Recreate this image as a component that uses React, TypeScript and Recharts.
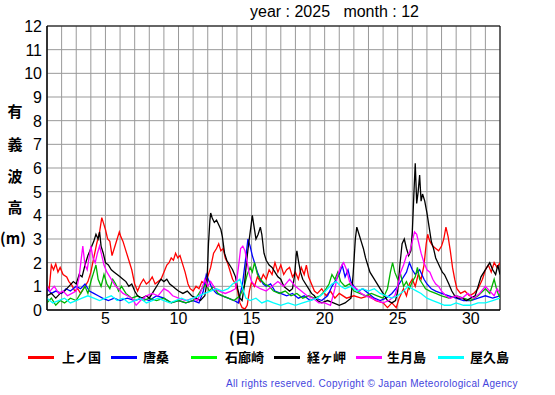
import React from "react";
import {
  LineChart,
  Line,
  XAxis,
  YAxis,
  CartesianGrid,
  ReferenceArea,
} from "recharts";

// ---- data (time in days, value in m) ----
const dayTicks = [1, 2, 3, 4, 5, 6, 7, 8, 9, 10, 11, 12, 13, 14, 15, 16, 17, 18, 19, 20, 21, 22, 23, 24, 25, 26, 27, 28, 29, 30, 31, 32];
const dayLabels = [5, 10, 15, 20, 25, 30];
const heightTicks = [0, 1, 2, 3, 4, 5, 6, 7, 8, 9, 10, 11, 12];

const redT = [1.0, 1.15, 1.3, 1.45, 1.6, 1.75, 1.9, 2.1, 2.35, 2.5, 2.7, 2.9, 3.1, 3.3, 3.5, 3.8, 4.0, 4.2, 4.4, 4.6, 4.75, 4.85, 5.0, 5.15, 5.3, 5.45, 5.6, 5.8, 5.95, 6.05, 6.2, 6.4, 6.6, 6.8, 7.0, 7.2, 7.4, 7.6, 7.8, 8.0, 8.2, 8.4, 8.6, 8.8, 9.0, 9.2, 9.35, 9.5, 9.65, 9.8, 9.95, 10.1, 10.25, 10.45, 10.65, 10.8, 11.0, 11.2, 11.4, 11.6, 11.8, 12.0, 12.2, 12.4, 12.6, 12.75, 12.9, 13.05, 13.2, 13.35, 13.5, 13.7, 13.9, 14.05, 14.2, 14.35, 14.55, 14.7, 14.85, 15.0, 15.2, 15.4, 15.6, 15.8, 16.0, 16.2, 16.4, 16.6, 16.8, 17.0, 17.2, 17.4, 17.6, 17.8, 18.0, 18.2, 18.4, 18.6, 18.75, 18.9, 19.1, 19.3, 19.5, 19.8, 20.1, 20.4, 20.7, 21.0, 21.5, 22.0, 22.5, 23.0, 23.5, 24.0, 24.3, 24.6, 24.9, 25.1, 25.4, 25.6, 25.8, 26.0, 26.2, 26.4, 26.6, 26.8, 26.95, 27.05, 27.2, 27.4, 27.6, 27.8, 28.0, 28.15, 28.3, 28.45, 28.6, 28.75, 28.9, 29.05, 29.3, 29.6, 29.9, 30.2, 30.5, 30.8, 31.0, 31.2, 31.4, 31.6, 31.8, 32.0];
const redV = [1.0, 0.9, 1.9, 1.7, 1.95, 1.6, 1.8, 1.5, 1.4, 1.2, 1.05, 0.8, 0.9, 0.7, 0.9, 1.2, 1.6, 2.2, 2.8, 3.3, 3.9, 3.7, 3.4, 3.0, 2.9, 2.3, 2.6, 3.0, 3.3, 3.1, 2.9, 2.5, 2.1, 1.7, 1.1, 0.8, 1.1, 1.3, 1.1, 1.2, 1.4, 1.1, 1.2, 1.3, 1.6, 1.9, 2.0, 2.2, 2.1, 2.4, 2.2, 2.3, 2.0, 1.6, 1.1, 0.9, 0.8, 1.0, 0.9, 1.2, 1.1, 1.4, 1.8, 2.4, 2.6, 2.8, 2.5, 2.6, 2.2, 2.0, 1.7, 1.3, 1.1, 0.8, 0.3, 0.1, 0.05, 0.2, 0.8, 1.2, 1.0, 1.4, 1.2, 1.5, 1.3, 1.7, 1.5, 2.0, 1.6, 1.9, 1.5, 1.7, 1.8, 1.4, 1.6, 1.3, 1.8, 1.5, 1.9, 1.4, 1.1, 0.8, 0.7, 0.9, 0.6, 0.8, 0.5, 0.7, 0.5, 0.6, 0.5, 0.6, 0.4, 0.3, 0.1, 0.3, 0.1, 0.5, 0.9, 0.6, 1.1, 1.3, 1.0, 1.5, 1.3, 1.9, 2.8, 3.2, 2.9, 2.7, 2.6, 2.5, 2.7, 3.0, 3.5, 3.1, 2.5, 1.8, 1.3, 0.9, 0.7, 0.8, 0.6, 0.7, 0.9, 1.3, 1.7, 1.9, 1.6, 2.0, 1.8, 2.0];

const blueT = [1.0, 1.3, 1.6, 2.0, 2.3, 2.6, 3.0, 3.3, 3.6, 3.9, 4.2, 4.5, 4.8, 5.2, 5.6, 6.0, 6.5, 7.0, 7.5, 8.0, 8.5, 9.0, 9.5, 10.0, 10.5, 11.0, 11.4, 11.7, 11.9, 12.1, 12.3, 12.6, 13.0, 13.4, 13.8, 14.1, 14.4, 14.6, 14.75, 14.9, 15.05, 15.2, 15.4, 15.6, 15.8, 16.0, 16.3, 16.6, 17.0, 17.4, 17.8, 18.2, 18.6, 19.0, 19.4, 19.8, 20.2, 20.5, 20.8, 21.0, 21.2, 21.4, 21.6, 21.8, 22.0, 22.3, 22.6, 23.0, 23.4, 23.8, 24.2, 24.6, 25.0, 25.3, 25.6, 25.8, 26.0, 26.2, 26.5, 26.8, 27.0, 27.3, 27.6, 28.0, 28.5, 29.0, 29.5, 30.0, 30.5, 31.0, 31.5, 32.0];
const blueV = [0.9, 0.7, 0.8, 0.7, 0.9, 0.8, 1.0, 0.9, 1.1, 0.8, 0.7, 0.6, 0.5, 0.4, 0.5, 0.4, 0.5, 0.4, 0.5, 0.4, 0.6, 0.5, 0.3, 0.4, 0.3, 0.4, 0.3, 0.8, 1.5, 1.2, 0.9, 0.7, 0.6, 0.5, 0.4, 0.3, 1.2, 2.2, 3.0, 2.7, 2.3, 2.0, 1.6, 1.3, 1.1, 1.0, 1.1, 0.8, 0.7, 0.6, 0.7, 0.5, 0.6, 0.4, 0.5, 0.4, 0.6, 1.0, 1.3, 1.5, 1.9, 1.4, 1.7, 1.2, 1.0, 0.8, 0.9, 0.7, 0.5, 0.4, 0.5, 0.7, 1.0, 1.3, 1.6, 2.0, 1.7, 1.5, 1.7, 1.3, 1.1, 0.9, 0.8, 0.7, 0.6, 0.5, 0.4, 0.4, 0.5, 0.6, 0.5, 0.6];

const greenT = [1.0, 1.3, 1.6, 1.9, 2.2, 2.6, 3.0, 3.3, 3.6, 3.8, 4.0, 4.2, 4.35, 4.5, 4.7, 4.9, 5.1, 5.3, 5.5, 5.7, 5.9, 6.1, 6.4, 6.8, 7.2, 7.6, 8.0, 8.5, 9.0, 9.5, 10.0, 10.5, 11.0, 11.3, 11.6, 11.9, 12.1, 12.4, 12.7, 13.0, 13.4, 13.8, 14.2, 14.5, 14.7, 14.9, 15.05, 15.2, 15.4, 15.6, 15.9, 16.2, 16.5, 16.9, 17.3, 17.7, 18.1, 18.5, 18.9, 19.3, 19.7, 20.0, 20.3, 20.5, 20.7, 20.9, 21.1, 21.4, 21.7, 22.0, 22.4, 22.8, 23.2, 23.6, 24.0, 24.3, 24.5, 24.65, 24.8, 25.0, 25.2, 25.4, 25.6, 25.8, 26.0, 26.2, 26.35, 26.5, 26.7, 26.9, 27.2, 27.6, 28.0, 28.5, 29.0, 29.5, 30.0, 30.5, 31.0, 31.3, 31.6, 31.8, 32.0];
const greenV = [0.3, 0.5, 0.2, 0.4, 0.3, 0.5, 0.4, 0.7, 1.0, 0.7, 1.2, 1.6, 1.9, 1.3, 1.0, 1.5, 1.1, 0.9, 1.3, 1.1, 0.8, 1.0, 0.7, 0.5, 0.6, 0.4, 0.5, 0.4, 0.5, 0.3, 0.4, 0.3, 0.4, 0.6, 0.9, 1.1, 0.8, 1.0, 0.7, 0.6, 0.5, 0.4, 0.6, 1.0, 1.5, 1.8, 1.6, 2.0, 1.5, 1.3, 1.1, 1.0, 0.8, 0.7, 0.8, 0.6, 0.7, 0.5, 0.6, 0.5, 0.6, 0.8, 1.1, 1.5, 1.3, 1.6, 1.2, 1.0, 1.1, 0.8, 0.7, 0.6, 0.7, 0.6, 0.5, 0.9, 1.6, 2.0, 1.6, 1.3, 1.5, 1.0, 1.2, 0.9, 1.2, 1.4, 1.8, 1.3, 1.1, 0.9, 0.8, 0.7, 0.6, 0.5, 0.6, 0.5, 0.4, 0.6, 0.9, 0.7, 1.3, 0.8, 0.5];

const blackT = [1.0, 1.3, 1.6, 1.9, 2.2, 2.5, 2.8, 3.0, 3.2, 3.4, 3.6, 3.8, 4.0, 4.2, 4.35, 4.5, 4.6, 4.7, 4.85, 5.0, 5.2, 5.4, 5.6, 5.8, 6.0, 6.2, 6.4, 6.6, 6.8, 7.0, 7.2, 7.5, 7.8, 8.0, 8.3, 8.6, 8.8, 9.0, 9.2, 9.4, 9.6, 9.8, 10.0, 10.3, 10.6, 10.9, 11.2, 11.5, 11.8, 11.95, 12.05, 12.15, 12.2, 12.3, 12.45, 12.6, 12.75, 12.9, 13.0, 13.15, 13.3, 13.5, 13.7, 13.9, 14.05, 14.2, 14.35, 14.5, 14.65, 14.8, 14.95, 15.05, 15.15, 15.3, 15.45, 15.6, 15.7, 15.85, 16.0, 16.2, 16.4, 16.6, 16.8, 17.0, 17.2, 17.4, 17.6, 17.8, 17.95, 18.05, 18.1, 18.2, 18.35, 18.5, 18.7, 18.9, 19.1, 19.3, 19.5, 19.8, 20.2, 20.6, 21.0, 21.4, 21.8, 21.95, 22.1, 22.2, 22.35, 22.5, 22.65, 22.8, 22.95, 23.1, 23.3, 23.5, 23.7, 23.9, 24.1, 24.3, 24.6, 24.85, 25.0, 25.15, 25.3, 25.45, 25.6, 25.75, 25.9, 26.0, 26.1, 26.2, 26.3, 26.4, 26.5, 26.6, 26.7, 26.85, 27.0, 27.15, 27.3, 27.45, 27.6, 27.75, 27.9, 28.05, 28.2, 28.35, 28.5, 28.7, 28.9, 29.1, 29.4, 29.7, 30.0, 30.3, 30.5, 30.7, 30.9, 31.1, 31.3, 31.5, 31.7, 31.85, 32.0];
const blackV = [0.6, 0.7, 0.5, 0.7, 0.8, 1.0, 1.2, 1.1, 1.5, 1.4, 1.9, 2.3, 2.6, 2.9, 3.2, 3.0, 3.3, 2.7, 2.4, 2.0, 1.9, 1.7, 1.6, 1.5, 1.4, 1.3, 1.2, 1.0, 1.1, 0.8, 0.6, 0.5, 0.6, 0.5, 0.8, 1.1, 1.3, 1.2, 1.3, 1.1, 1.0, 0.9, 0.8, 0.7, 0.8, 0.6, 0.5, 0.4, 0.6, 1.2, 2.8, 3.8, 4.1, 3.9, 3.7, 3.8, 3.6, 3.4, 3.1, 2.4, 2.1, 1.9, 1.7, 1.4, 0.9, 0.5, 0.4, 1.0, 2.0, 2.8, 3.5, 4.0, 3.6, 3.0, 3.2, 3.5, 3.2, 2.4, 2.1, 1.9, 1.8, 1.6, 1.4, 1.3, 1.0, 0.9, 0.8, 0.9, 1.5, 2.3, 2.5, 2.1, 1.6, 1.3, 1.1, 0.9, 0.7, 0.6, 0.4, 0.3, 0.4, 0.3, 0.2, 0.3, 0.5, 1.5, 3.0, 3.5, 3.2, 2.9, 2.6, 2.2, 1.9, 1.6, 1.4, 1.2, 1.0, 0.8, 0.6, 0.4, 0.3, 0.4, 0.8, 1.9, 2.8, 3.0, 2.6, 2.3, 2.5, 3.3, 4.8, 6.2, 4.5, 5.0, 5.7, 4.6, 4.9, 4.6, 4.1, 3.5, 2.9, 2.6, 2.2, 2.0, 1.8, 1.6, 1.5, 1.3, 1.1, 0.8, 0.6, 0.5, 0.5, 0.4, 0.5, 0.6, 1.0, 1.4, 1.6, 1.8, 2.0, 1.7, 1.5, 1.9, 1.5];

const magentaT = [1.0, 1.2, 1.5, 1.8, 2.1, 2.4, 2.7, 3.0, 3.2, 3.35, 3.45, 3.6, 3.75, 3.9, 4.0, 4.15, 4.3, 4.45, 4.6, 4.75, 4.9, 5.1, 5.3, 5.5, 5.7, 5.9, 6.2, 6.5, 6.8, 7.1, 7.4, 7.8, 8.2, 8.6, 9.0, 9.3, 9.6, 10.0, 10.5, 11.0, 11.3, 11.6, 11.8, 12.0, 12.2, 12.5, 12.8, 13.2, 13.6, 13.9, 14.1, 14.25, 14.4, 14.55, 14.7, 14.85, 15.0, 15.3, 15.6, 16.0, 16.4, 16.8, 17.2, 17.6, 18.0, 18.4, 18.8, 19.2, 19.6, 20.0, 20.4, 20.7, 20.9, 21.1, 21.3, 21.5, 21.7, 21.9, 22.2, 22.5, 22.8, 23.2, 23.6, 24.0, 24.4, 24.8, 25.0, 25.2, 25.4, 25.6, 25.8, 26.0, 26.15, 26.3, 26.45, 26.6, 26.8, 27.0, 27.2, 27.4, 27.6, 27.8, 28.0, 28.3, 28.6, 29.0, 29.4, 29.8, 30.2, 30.6, 31.0, 31.3, 31.6, 31.8, 32.0];
const magentaV = [1.0, 0.8, 1.0, 0.7, 0.8, 0.6, 0.7, 0.8, 1.4, 2.2, 2.7, 1.9, 1.7, 2.3, 2.7, 2.2, 2.0, 2.4, 2.7, 2.3, 1.9, 1.6, 1.4, 1.2, 1.0, 0.9, 0.7, 0.6, 0.5, 0.2, 0.4, 0.6, 0.7, 0.6, 0.9, 0.8, 0.6, 0.5, 0.4, 0.5, 0.4, 0.9, 1.3, 1.0, 1.2, 0.9, 0.8, 0.7, 0.8, 0.9, 1.8, 2.6, 2.7, 2.5, 2.0, 1.5, 1.2, 1.0, 0.9, 0.8, 1.0, 1.2, 1.0, 1.3, 1.0, 0.8, 0.6, 0.5, 0.3, 0.3, 0.2, 0.9, 1.5, 1.8, 2.0, 1.7, 1.2, 1.0, 0.9, 0.7, 0.6, 0.5, 0.4, 0.3, 0.4, 0.6, 1.0, 1.6, 1.9, 2.3, 2.4, 2.9, 3.3, 3.2, 2.8, 2.4, 2.0, 1.7, 1.6, 1.3, 1.1, 1.0, 0.8, 0.6, 0.5, 0.6, 0.5, 0.7, 0.5, 0.7, 1.0, 0.8, 0.6, 0.9, 0.7];

const cyanT = [1.0, 1.4, 1.8, 2.2, 2.6, 3.0, 3.4, 3.8, 4.2, 4.6, 5.0, 5.4, 5.8, 6.2, 6.6, 7.0, 7.4, 7.8, 8.2, 8.6, 9.0, 9.4, 9.8, 10.2, 10.6, 11.0, 11.4, 11.8, 12.2, 12.6, 13.0, 13.4, 13.7, 14.0, 14.2, 14.4, 14.6, 14.9, 15.3, 15.7, 16.1, 16.5, 17.0, 17.5, 18.0, 18.5, 19.0, 19.5, 19.9, 20.2, 20.5, 20.8, 21.1, 21.4, 21.8, 22.2, 22.6, 23.0, 23.4, 23.8, 24.2, 24.6, 25.0, 25.4, 25.7, 26.0, 26.3, 26.6, 27.0, 27.4, 27.8, 28.2, 28.6, 29.0, 29.5, 30.0, 30.5, 31.0, 31.5, 32.0];
const cyanV = [0.5, 0.3, 0.4, 0.5, 0.3, 0.4, 0.5, 0.6, 0.5, 0.4, 0.5, 0.6, 0.4, 0.5, 0.3, 0.4, 0.5, 0.3, 0.4, 0.5, 0.4, 0.3, 0.4, 0.5, 0.4, 0.5, 0.6, 0.7, 0.8, 0.9, 0.8, 0.9, 1.1, 1.2, 1.3, 0.9, 0.5, 0.4, 0.5, 0.3, 0.4, 0.3, 0.2, 0.3, 0.2, 0.3, 0.4, 0.5, 0.7, 0.9, 1.1, 1.2, 1.0, 0.9, 1.0, 0.8, 0.9, 0.8, 0.9, 0.7, 0.6, 0.5, 0.6, 0.8, 1.0, 0.9, 0.8, 0.7, 0.5, 0.4, 0.3, 0.2, 0.2, 0.3, 0.2, 0.2, 0.3, 0.3, 0.4, 0.5];

const stationNames = ["上ノ国", "唐桑", "石廊崎", "経ヶ岬", "生月島", "屋久島"];
const stationColors = ["#ff0000", "#0000ff", "#00b400", "#000000", "#ff00ff", "#00ffff"];
const legendColors = ["#ff0000", "#0000ff", "#00ff00", "#000000", "#ff00ff", "#00ffff"];

const zip = (ts: number[], vs: number[]) => ts.map((t, i) => ({ t, v: vs[i] }));
const seriesData = [
  zip(redT, redV),
  zip(blueT, blueV),
  zip(greenT, greenV),
  zip(blackT, blackV),
  zip(magentaT, magentaV),
  zip(cyanT, cyanV),
];

const legendLineX = [28, 111, 191, 274, 356, 438];
const legendTextX = [62, 143, 225, 307, 387, 470];
const yLabelChars = ["有", "義", "波", "高"];
const yLabelCenters = [111, 144, 176, 207];

const SANS = "'Liberation Sans', Arial, sans-serif";
const CJK = "'Noto Sans CJK JP', sans-serif";

const XTick = (props: any) => {
  const { x, payload } = props;
  if (!dayLabels.includes(payload.value)) return null;
  return (
    <text x={x} y={324} textAnchor="middle" fontSize={16} fontFamily={SANS} fill="#000">
      {payload.value}
    </text>
  );
};

const YTick = (props: any) => {
  const { y, payload } = props;
  return (
    <text x={42} y={y + 6} textAnchor="end" fontSize={16} fontFamily={SANS} fill="#000">
      {payload.value}
    </text>
  );
};

export default function App() {
  return (
    <div style={{ position: "absolute", left: 0, top: 0, width: 555, height: 395, background: "#fff" }}>
      <LineChart width={555} height={395} margin={{ top: 26, right: 55, bottom: 55, left: 7 }}>
        <CartesianGrid stroke="#999" strokeWidth={1} />
        <XAxis
          type="number"
          dataKey="t"
          domain={[1, 32]}
          ticks={dayTicks}
          interval={0}
          allowDataOverflow
          tickLine={false}
          axisLine={{ stroke: "#000" }}
          height={30}
          tick={<XTick />}
        />
        <YAxis
          type="number"
          domain={[0, 12]}
          ticks={heightTicks}
          interval={0}
          allowDataOverflow
          tickLine={false}
          axisLine={{ stroke: "#000" }}
          width={40}
          tick={<YTick />}
        />
        {seriesData.map((d, i) => (
          <Line
            key={stationNames[i]}
            data={d}
            dataKey="v"
            type="linear"
            stroke={stationColors[i]}
            strokeWidth={1.3}
            dot={false}
            activeDot={false}
            isAnimationActive={false}
          />
        ))}
        <ReferenceArea x1={1} x2={32} y1={0} y2={12} fill="none" fillOpacity={0} stroke="#000" strokeWidth={1} ifOverflow="visible" />
      </LineChart>

      <div style={{ position: "absolute", left: 250, top: 3, fontFamily: SANS, fontSize: 16, whiteSpace: "pre", lineHeight: "18px" }}>
        {"year : 2025   month : 12"}
      </div>

      {yLabelChars.map((c, i) => (
        <div
          key={c}
          style={{ position: "absolute", left: 6, top: yLabelCenters[i] - 9, width: 18, textAlign: "center", fontFamily: CJK, fontWeight: 700, fontSize: 15, lineHeight: "18px" }}
        >
          {c}
        </div>
      ))}
      <div style={{ position: "absolute", left: 0, top: 229, fontFamily: CJK, fontWeight: 700, fontSize: 15, lineHeight: "18px", whiteSpace: "pre" }}>
        (m)
      </div>

      <div style={{ position: "absolute", left: 229, top: 328, fontFamily: CJK, fontWeight: 700, fontSize: 15, lineHeight: "18px", whiteSpace: "pre" }}>
        (日)
      </div>

      {stationNames.map((n, i) => (
        <React.Fragment key={n}>
          <div style={{ position: "absolute", left: legendLineX[i], top: 356, width: 26, height: 3, background: legendColors[i] }} />
          <div style={{ position: "absolute", left: legendTextX[i], top: 348, fontFamily: CJK, fontWeight: 700, fontSize: 13, lineHeight: "18px", whiteSpace: "pre" }}>
            {n}
          </div>
        </React.Fragment>
      ))}

      <div style={{ position: "absolute", left: 226, top: 377, fontFamily: SANS, fontSize: 10, letterSpacing: 0.33, color: "#4444dd", lineHeight: "14px", whiteSpace: "pre" }}>
        All rights reserved. Copyright © Japan Meteorological Agency
      </div>
    </div>
  );
}
